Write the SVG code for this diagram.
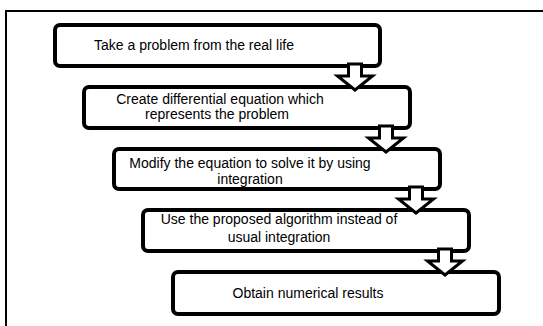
<svg xmlns="http://www.w3.org/2000/svg" width="543" height="326" viewBox="0 0 543 326">
<style>
.box{fill:#fff;stroke:#000;stroke-width:4}
.arr{fill:#fff;stroke:#000;stroke-width:3;stroke-linejoin:miter}
text{font-family:"Liberation Sans",Arial,sans-serif;font-size:14px;fill:#000;text-anchor:middle}
</style>
<defs>
<path id="blk" class="arr" d="M-6.5,-4 L6.5,-4 L6.5,8 L17.5,8 L0,22 L-17.5,8 L-6.5,8 Z"/>
</defs>
<rect width="543" height="326" fill="#fff"/>
<path d="M6,326 V11 H543" fill="none" stroke="#000" stroke-width="2"/>
<g id="n1"><rect class="box" x="55" y="25" width="325" height="41" rx="5"/><text x="194" y="50">Take a problem from the real life</text></g>
<g id="n2"><rect class="box" x="84" y="87" width="326" height="41" rx="5"/><text x="220" y="104">Create differential equation which</text><text x="217" y="119">represents the problem</text></g>
<g id="n3"><rect class="box" x="114" y="149" width="326" height="40" rx="5"/><text x="250" y="168">Modify the equation to solve it by using</text><text x="250" y="184">integration</text></g>
<g id="n4"><rect class="box" x="143" y="210" width="326" height="41" rx="5"/><text x="279" y="224">Use the proposed algorithm instead of</text><text x="279" y="242">usual integration</text></g>
<g id="n5"><rect class="box" x="173" y="272" width="326" height="42" rx="5"/><text x="308" y="298">Obtain numerical results</text></g>
<g id="connectors">
<use href="#blk" x="355" y="68"/>
<use href="#blk" x="386" y="130"/>
<use href="#blk" x="416" y="191"/>
<use href="#blk" x="445" y="253"/>
</g>
</svg>
